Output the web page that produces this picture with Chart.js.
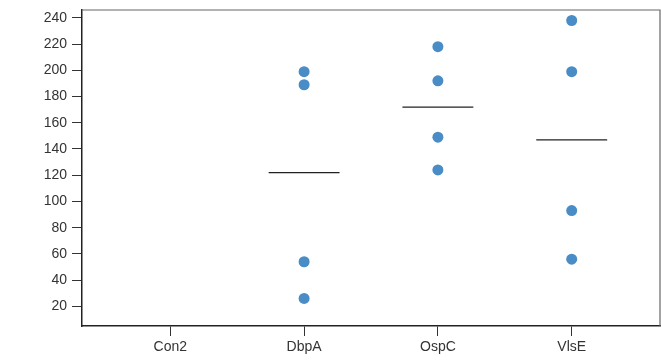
<!DOCTYPE html>
<html>
<head>
<meta charset="utf-8">
<script src="https://cdn.jsdelivr.net/npm/chart.js@4"></script>
<style>
  html, body { margin: 0; padding: 0; background: #fff; overflow: hidden; }
  #wrap { width: 661px; height: 361px; }
</style>
</head>
<body>
<div id="wrap"><canvas id="c"></canvas></div>
<script>
// 分类与数据
const categories = ['Con2', 'DbpA', 'OspC', 'VlsE'];
const con2Values = [];
const dbpaValues = [199, 189, 54, 26];
const ospcValues = [218, 192, 149, 124];
const vlseValues = [238, 199, 93, 56];
const medians = [null, 122, 172, 147];
const yTicks = [20, 40, 60, 80, 100, 120, 140, 160, 180, 200, 220, 240];

const groups = [con2Values, dbpaValues, ospcValues, vlseValues];
const dotColor = '#4a8cc5';
const halfWidth = 0.265;

const points = [];
groups.forEach((vals, i) => {
    vals.forEach(v => points.push({ x: i, y: v }));
});

const datasets = [{
    type: 'scatter',
    data: points,
    backgroundColor: dotColor,
    borderWidth: 0,
    pointRadius: 5.5,
    pointHoverRadius: 5.5
}];

medians.forEach((m, i) => {
    if (m === null) return;
    datasets.push({
        type: 'line',
        data: [{ x: i - halfWidth, y: m }, { x: i + halfWidth, y: m }],
        borderColor: '#222',
        borderWidth: 1.3,
        pointRadius: 0,
        fill: false
    });
});

// 图框上边和右边
const framePlugin = {
    id: 'frame',
    afterDatasetsDraw(chart) {
        const a = chart.chartArea;
        const ctx = chart.ctx;
        ctx.save();
        ctx.strokeStyle = '#666';
        ctx.lineWidth = 1.2;
        ctx.beginPath();
        ctx.moveTo(a.left, a.top);
        ctx.lineTo(a.right, a.top);
        ctx.lineTo(a.right, a.bottom);
        ctx.stroke();
        ctx.restore();
    }
};

new Chart(document.getElementById('c'), {
    data: { datasets: datasets },
    plugins: [framePlugin],
    options: {
        responsive: true,
        maintainAspectRatio: false,
        animation: false,
        layout: {
            autoPadding: false,
            padding: { top: 10, right: 1, left: 0, bottom: 0 }
        },
        plugins: {
            legend: { display: false },
            tooltip: { enabled: false }
        },
        scales: {
            x: {
                type: 'linear',
                min: -0.66,
                max: 3.66,
                afterBuildTicks: axis => {
                    axis.ticks = categories.map((c, i) => ({ value: i }));
                },
                afterFit: axis => {
                    axis.height = 35;
                    axis.paddingLeft = 0;
                    axis.paddingRight = 0;
                },
                ticks: {
                    callback: v => categories[v],
                    color: '#333',
                    padding: 3,
                    font: { family: 'Liberation Sans, Arial, sans-serif', size: 14 }
                },
                grid: {
                    drawOnChartArea: false,
                    drawTicks: true,
                    tickLength: 10,
                    color: '#333'
                },
                border: { color: '#222', width: 1.5 }
            },
            y: {
                min: 5,
                max: 246,
                afterBuildTicks: axis => {
                    axis.ticks = yTicks.map(v => ({ value: v }));
                },
                afterFit: axis => {
                    axis.width = 82;
                    axis.paddingTop = 0;
                    axis.paddingBottom = 0;
                },
                ticks: {
                    color: '#333',
                    padding: 5,
                    font: { family: 'Liberation Sans, Arial, sans-serif', size: 14 }
                },
                grid: {
                    drawOnChartArea: false,
                    drawTicks: true,
                    tickLength: 10,
                    color: '#333'
                },
                border: { color: '#222', width: 1.5 }
            }
        }
    }
});
</script>
</body>
</html>
